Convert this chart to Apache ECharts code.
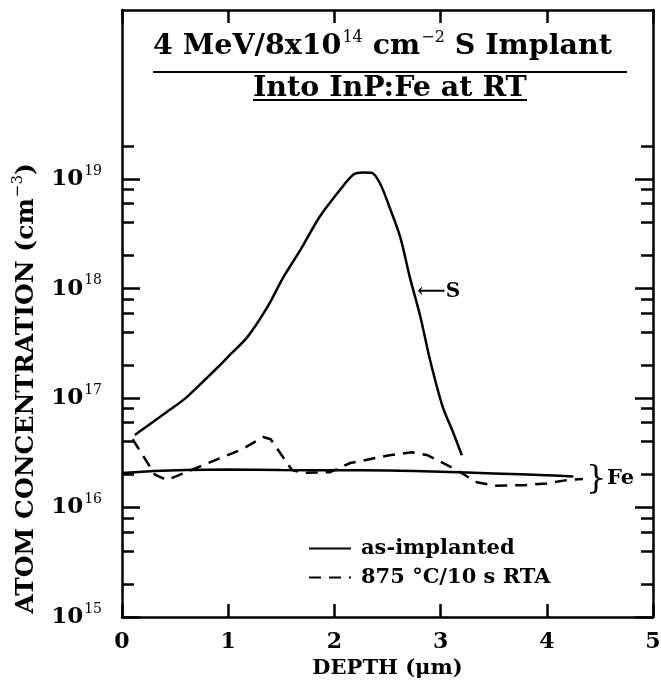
<!DOCTYPE html>
<html>
<head>
<meta charset="utf-8">
<script src="https://cdn.jsdelivr.net/npm/echarts@6/dist/echarts.min.js"></script>
<style>
  html, body { margin: 0; background: #fff; }
  #chart { width: 661px; height: 684px; }
</style>
</head>
<body>
<div id="chart"></div>
<script>
// S profile, as-implanted (depth in um, concentration in cm^-3)
const sDepth = [0.12, 0.45, 0.61, 0.90, 1.02, 1.18, 1.37, 1.52, 1.68, 1.86, 2.05, 2.18, 2.27, 2.35, 2.43, 2.52, 2.62, 2.71, 2.81, 2.90, 3.02, 3.12, 3.20];
const sConc = [4.6e16, 7.8e16, 1.02e17, 1.9e17, 2.5e17, 3.6e17, 6.8e17, 1.27e18, 2.25e18, 4.5e18, 7.9e18, 1.1e19, 1.15e19, 1.14e19, 9.1e18, 5.5e18, 2.95e18, 1.27e18, 5.5e17, 2.24e17, 8.3e16, 4.8e16, 3.0e16];

// Fe background, as-implanted
const feDepth = [0, 0.3, 0.6, 1.0, 1.5, 2.0, 2.5, 3.0, 3.5, 4.0, 4.25];
const feConc = [2.07e16, 2.15e16, 2.2e16, 2.22e16, 2.2e16, 2.19e16, 2.18e16, 2.12e16, 2.05e16, 1.97e16, 1.92e16];

// after 875 C / 10 s RTA
const rtaDepth = [0.10, 0.31, 0.42, 0.72, 1.13, 1.33, 1.40, 1.60, 1.70, 1.96, 2.15, 2.52, 2.73, 2.88, 3.15, 3.34, 3.51, 3.79, 4.00, 4.19, 4.34];
const rtaConc = [4.2e16, 2.0e16, 1.78e16, 2.34e16, 3.4e16, 4.4e16, 4.2e16, 2.2e16, 2.07e16, 2.1e16, 2.55e16, 3.0e16, 3.2e16, 3.0e16, 2.2e16, 1.7e16, 1.58e16, 1.6e16, 1.66e16, 1.78e16, 1.82e16];

const yMajor = [1e15, 1e16, 1e17, 1e18, 1e19];
const yMinor = [2e15, 4e15, 6e15, 8e15, 2e16, 4e16, 6e16, 8e16, 2e17, 4e17, 6e17, 8e17, 2e18, 4e18, 6e18, 8e18, 2e19];

const font = "'DejaVu Serif', serif";
const yMin = 1e15;
const yMax = 3.5e20;

const zip = (xs, ys) => xs.map((x, i) => [x, ys[i]]);

// base text + superscript, used by labels / names / title
const richText = (size, supSize, raise) => ({
    b: { fontFamily: font, fontWeight: 'bold', fontSize: size, color: '#000' },
    s: { fontFamily: font, fontSize: supSize, color: '#000', padding: [0, 0, raise, 1] }
});

const logAxis = (position, major) => ({
    type: 'log',
    logBase: 10,
    min: yMin,
    max: yMax,
    position: position,
    splitLine: { show: false },
    axisLine: { show: major, lineStyle: { color: '#000', width: 2.5 } },
    axisTick: {
        show: true,
        inside: true,
        length: major ? 18 : 12,
        customValues: major ? yMajor : yMinor,
        lineStyle: { color: '#000', width: 2.5 }
    },
    axisLabel: { show: false }
});

const yLeft = logAxis('left', true);
yLeft.axisLabel = {
    show: true,
    margin: 20,
    customValues: yMajor,
    formatter: (v) => '{b|10}{s|' + Math.round(Math.log10(v)) + '}',
    rich: richText(23, 14, 16)
};
yLeft.name = '{b|ATOM CONCENTRATION (cm}{s|−3}{b|)}';
yLeft.nameLocation = 'middle';
yLeft.nameRotate = 90;
yLeft.nameGap = 80;
yLeft.nameTextStyle = {
    padding: [0, 150, 0, 0],
    rich: richText(25, 15, 16)
};

const xAxisBase = (position) => ({
    type: 'value',
    min: 0,
    max: 5,
    interval: 1,
    position: position,
    splitLine: { show: false },
    axisLine: { show: true, lineStyle: { color: '#000', width: 2.5 } },
    axisTick: { show: true, inside: true, length: 13, lineStyle: { color: '#000', width: 2.5 } },
    axisLabel: { show: false }
});

const xBottom = xAxisBase('bottom');
xBottom.axisLabel = {
    show: true,
    margin: 14,
    fontFamily: font,
    fontWeight: 'bold',
    fontSize: 22,
    color: '#000'
};
xBottom.name = 'DEPTH (μm)';
xBottom.nameLocation = 'middle';
xBottom.nameGap = 40;
xBottom.nameTextStyle = { fontFamily: font, fontWeight: 'bold', fontSize: 21, color: '#000' };

const chart = echarts.init(document.getElementById('chart'));
chart.setOption({
    animation: false,
    backgroundColor: '#fff',
    grid: { left: 122, right: 8, top: 10, bottom: 67, outerBoundsMode: 'none', containLabel: false },
    xAxis: [xBottom, xAxisBase('top')],
    yAxis: [yLeft, logAxis('left', false), logAxis('right', true), logAxis('right', false)],
    legend: {
        left: 303,
        top: 533,
        orient: 'vertical',
        itemWidth: 42,
        itemHeight: 14,
        itemGap: 8,
        data: ['as-implanted', '875 °C/10 s RTA'],
        itemStyle: { color: 'rgba(0,0,0,0)', borderWidth: 0 },
        textStyle: { fontFamily: font, fontWeight: 'bold', fontSize: 21, color: '#000', padding: [0, 0, 0, 5] }
    },
    series: [
        {
            name: 'as-implanted',
            type: 'line',
            data: zip(sDepth, sConc),
            smooth: 0.3,
            symbol: 'none',
            itemStyle: { color: '#000' },
            lineStyle: { color: '#000', width: 2.5 }
        },
        {
            name: 'as-implanted',
            type: 'line',
            data: zip(feDepth, feConc),
            smooth: 0.2,
            symbol: 'none',
            itemStyle: { color: '#000' },
            lineStyle: { color: '#000', width: 2.5 }
        },
        {
            name: '875 °C/10 s RTA',
            type: 'line',
            data: zip(rtaDepth, rtaConc),
            symbol: 'none',
            itemStyle: { color: '#000' },
            lineStyle: { color: '#000', width: 2.5, type: [12, 8] }
        }
    ],
    graphic: [
        {
            type: 'text', left: 153, top: 30,
            style: {
                text: '{b|4 MeV/8x10}{s|14}{b| cm}{s|−2}{b| S Implant}',
                rich: richText(28.5, 16, 18)
            }
        },
        { type: 'line', shape: { x1: 153, y1: 72, x2: 627, y2: 72 }, style: { stroke: '#000', lineWidth: 2 } },
        {
            type: 'text', left: 253, top: 74,
            style: { text: 'Into InP:Fe at RT', fontFamily: font, fontWeight: 'bold', fontSize: 28.5, fill: '#000' }
        },
        { type: 'line', shape: { x1: 253, y1: 100, x2: 527, y2: 100 }, style: { stroke: '#000', lineWidth: 2 } },
        {
            type: 'text', x: 417, y: 292,
            style: { text: '⟵S', fontFamily: font, fontWeight: 'bold', fontSize: 20, fill: '#000', verticalAlign: 'middle' }
        },
        {
            type: 'text', x: 586, y: 480,
            style: { text: '}', fontFamily: font, fontSize: 32, fill: '#000', verticalAlign: 'middle' }
        },
        {
            type: 'text', x: 607, y: 479,
            style: { text: 'Fe', fontFamily: font, fontWeight: 'bold', fontSize: 21, fill: '#000', verticalAlign: 'middle' }
        }
    ]
});
</script>
</body>
</html>
